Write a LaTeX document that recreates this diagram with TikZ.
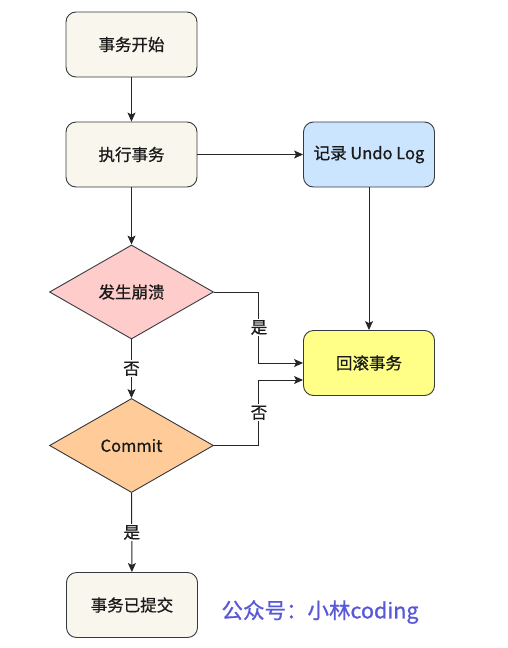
\documentclass[tikz,border=0pt]{standalone}
\usepackage{fontspec}
\setmainfont{Noto Sans CJK SC}[FakeBold=0.8]
\usetikzlibrary{shapes.geometric,arrows.meta,calc}
\definecolor{boxline}{HTML}{36393D}
\definecolor{creamfill}{HTML}{F9F7ED}
\definecolor{bluefill}{HTML}{CCE5FF}
\definecolor{pinkfill}{HTML}{FFCCCC}
\definecolor{orangefill}{HTML}{FFCC99}
\definecolor{yellowfill}{HTML}{FFFF88}
\definecolor{wmark}{HTML}{5858D8}
\definecolor{txt}{HTML}{1A1A1A}
\begin{document}
\begin{tikzpicture}[x=1pt,y=-1pt,
  box/.style={draw=boxline, rounded corners=10pt, minimum width=131pt, minimum height=65pt,
    line width=0.9pt, inner sep=0pt, text=txt, font=\fontsize{16.5}{18}\selectfont},
  dia/.style={draw=boxline, diamond, minimum width=164pt, minimum height=94pt,
    line width=0.9pt, inner sep=0pt, text=txt, font=\fontsize{16.5}{18}\selectfont},
  arr/.style={draw=black!85, line width=1pt, -{Stealth[length=9pt,width=8pt,inset=2pt]}},
  lbl/.style={fill=white, inner sep=1.5pt, text=txt, font=\fontsize{16.5}{18}\selectfont}]
\useasboundingbox[fill=white] (0,0) rectangle (508,648);
\node[box, fill=creamfill] (start) at (131.5,44.5) {事务开始};
\node[box, fill=creamfill] (exec) at (131.5,154.5) {执行事务};
\node[box, fill=bluefill] (undo) at (369,154.5) {记录 Undo Log};
\node[dia, fill=pinkfill] (crash) at (131.5,292) {发生崩溃};
\node[dia, fill=orangefill] (commit) at (131.5,445.5) {Commit};
\node[box, fill=yellowfill] (roll) at (369,363) {回滚事务};
\node[box, fill=creamfill] (done) at (132,605) {事务已提交};
\node[text=wmark, font=\fontsize{21.5}{24}\selectfont] (wm) at (320,612) {公众号：小林coding};
\draw[arr] (start) -- (exec);
\draw[arr] (exec) -- (undo);
\draw[arr] (undo) -- (roll);
\draw[arr] (exec) -- (crash);
\draw[arr] (crash.east) -- ++(45,0) |- (roll.west) node[lbl, pos=0.25] {是};
\draw[arr] (commit.east) -- ++(45,0) |- ($(roll.west)+(0,17)$) node[lbl, pos=0.25] {否};
\draw[arr] (crash) -- node[lbl] {否} (commit);
\draw[arr] (commit) -- node[lbl] {是} (done);
\end{tikzpicture}
\end{document}
